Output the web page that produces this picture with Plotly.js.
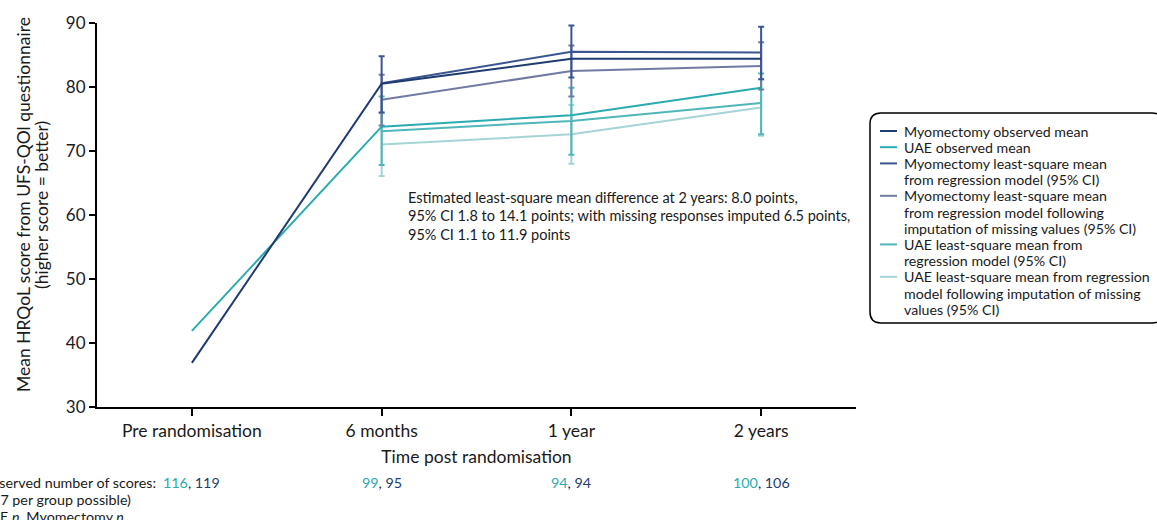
<!DOCTYPE html>
<html>
<head>
<meta charset="utf-8">
<script src="https://cdn.plot.ly/plotly-3.0.1.min.js"></script>
<style>html,body{margin:0;padding:0;background:#fff;}#chart{width:1157px;height:520px;}</style>
</head>
<body>
<div id="chart"></div>
<script>
// ---- data ----
const categories = ['Pre randomisation', '6 months', '1 year', '2 years'];
const fuCategories = ['6 months', '1 year', '2 years'];

const myoObs = [36.9, 80.5, 84.4, 84.4];
const uaeObs = [41.9, 73.8, 75.6, 79.9];

const myoLS = [80.6, 85.5, 85.4];
const myoLSlo = [76.0, 81.5, 81.2];
const myoLShi = [84.8, 89.6, 89.4];

const myoImp = [78.0, 82.5, 83.3];
const myoImplo = [74.0, 78.5, 79.6];
const myoImphi = [81.9, 86.5, 87.0];

const uaeLS = [73.1, 74.7, 77.5];
const uaeLSlo = [67.8, 69.4, 72.6];
const uaeLShi = [78.5, 79.9, 82.1];

const uaeImp = [71.0, 72.6, 76.8];
const uaeImplo = [66.1, 68.0, 72.4];
const uaeImphi = [75.9, 77.2, 81.2];

const nUAE = [116, 99, 94, 100];
const nMyo = [119, 95, 94, 106];

const legendNames = [
  ['Myomectomy observed mean'],
  ['UAE observed mean'],
  ['Myomectomy least-square mean', 'from regression model (95% CI)'],
  ['Myomectomy least-square mean', 'from regression model following', 'imputation of missing values (95% CI)'],
  ['UAE least-square mean from', 'regression model (95% CI)'],
  ['UAE least-square mean from regression', 'model following imputation of missing', 'values (95% CI)']
];

const yTitleLines = ['Mean HRQoL score from UFS-QOl questionnaire', '(higher score = better)'];
const xTitle = 'Time post randomisation';
const noteLines = [
  'Estimated least-square mean difference at 2 years: 8.0 points,',
  '95% CI 1.8 to 14.1 points; with missing responses imputed 6.5 points,',
  '95% CI 1.1 to 11.9 points'
];
const footLines = ['Observed number of scores:', '(127 per group possible)', 'UAE <i>n</i>, Myomectomy <i>n</i>'];

// ---- styling ----
const C = {
  myoObs: '#1f3b70',
  uaeObs: '#2aabb0',
  myoLS: '#3a5590',
  myoImp: '#727aa2',
  uaeLS: '#4fb6b9',
  uaeImp: '#a5d4d7'
};
const FONT = 'Lato, "Open Sans", sans-serif';
const TXT = '#1a1a1a';

function ciTrace(name, y, lo, hi, color) {
  return {
    type: 'scatter', mode: 'lines', name: name, x: fuCategories, y: y,
    line: {color: color, width: 2},
    error_y: {
      type: 'data', symmetric: false,
      array: y.map((v, i) => hi[i] - v),
      arrayminus: y.map((v, i) => v - lo[i]),
      color: color, thickness: 2, width: 3
    },
    showlegend: false, hoverinfo: 'skip'
  };
}

const traces = [
  ciTrace(legendNames[5].join(' '), uaeImp, uaeImplo, uaeImphi, C.uaeImp),
  ciTrace(legendNames[4].join(' '), uaeLS, uaeLSlo, uaeLShi, C.uaeLS),
  ciTrace(legendNames[3].join(' '), myoImp, myoImplo, myoImphi, C.myoImp),
  ciTrace(legendNames[2].join(' '), myoLS, myoLSlo, myoLShi, C.myoLS),
  {type: 'scatter', mode: 'lines', name: legendNames[1][0], x: categories, y: uaeObs,
   line: {color: C.uaeObs, width: 2}, showlegend: false},
  {type: 'scatter', mode: 'lines', name: legendNames[0][0], x: categories, y: myoObs,
   line: {color: C.myoObs, width: 2}, showlegend: false}
];

// plot-area geometry (pixels)
const L = 97, R = 301, T = 23, B = 113, W = 1157 - L - R, H = 520 - T - B;
const px = v => (v - L) / W;           // page x -> paper x
const py = v => (520 - B - v) / H;     // page y -> paper y

const shapes = [];
const annotations = [];

function textLine(text, x, y, size, opts) {
  annotations.push(Object.assign({
    xref: 'paper', yref: 'paper', x: px(x), y: py(y), xanchor: 'left', yanchor: 'middle',
    align: 'left', showarrow: false, borderpad: 0, text: text,
    font: {family: FONT, size: size, color: TXT}
  }, opts || {}));
}

// rounded legend box
(function () {
  const x0 = px(870), x1 = px(1163), y0 = py(323), y1 = py(113);
  const rx = 11 / W, ry = 11 / H;
  shapes.push({
    type: 'path', xref: 'paper', yref: 'paper',
    path: `M ${x0 + rx},${y1} L ${x1 - rx},${y1} Q ${x1},${y1} ${x1},${y1 - ry} L ${x1},${y0 + ry} Q ${x1},${y0} ${x1 - rx},${y0} L ${x0 + rx},${y0} Q ${x0},${y0} ${x0},${y0 + ry} L ${x0},${y1 - ry} Q ${x0},${y1} ${x0 + rx},${y1} Z`,
    line: {color: '#000', width: 1.5}, fillcolor: 'rgba(0,0,0,0)'
  });
})();

// legend swatches + text
const legendColors = [C.myoObs, C.uaeObs, C.myoLS, C.myoImp, C.uaeLS, C.uaeImp];
let lineIdx = 0;
legendNames.forEach((lines, i) => {
  const yFirst = 131 + lineIdx * 16.2;
  shapes.push({type: 'line', xref: 'paper', yref: 'paper',
    x0: px(880), x1: px(897), y0: py(yFirst), y1: py(yFirst),
    line: {color: legendColors[i], width: 2}});
  lines.forEach(t => {
    textLine(t, 903, 131 + lineIdx * 16.2, 14.2);
    lineIdx++;
  });
});

// in-plot note
noteLines.forEach((t, i) => textLine(t, 407, 197 + i * 18.5, 14.5));

// footer
footLines.forEach((t, i) => textLine(t, -21, 482 + i * 17, 14.3));
categories.forEach((c, i) => {
  annotations.push({
    xref: 'x', yref: 'paper', x: c, y: py(482), xanchor: 'center', yanchor: 'middle',
    showarrow: false, borderpad: 0,
    text: `<span style="color:${C.uaeObs}">${nUAE[i]}</span>, <span style="color:${C.myoObs}">${nMyo[i]}</span>`,
    font: {family: FONT, size: 14.3, color: TXT}
  });
});

// y-axis title (two tightly spaced lines)
yTitleLines.forEach((t, i) => {
  annotations.push({
    xref: 'paper', yref: 'paper', x: px(23 + i * 18), y: py(205), xanchor: 'center', yanchor: 'middle',
    textangle: -90, showarrow: false, borderpad: 0, text: t,
    font: {family: FONT, size: 17.5, color: TXT}
  });
});

const layout = {
  width: 1157, height: 520,
  margin: {l: L, r: R, t: T, b: B, pad: 0},
  paper_bgcolor: '#fff', plot_bgcolor: '#fff',
  font: {family: FONT, color: TXT},
  showlegend: false,
  xaxis: {
    type: 'category', categoryorder: 'array', categoryarray: categories,
    range: [-0.5, 3.5], showgrid: false, zeroline: false,
    showline: true, linecolor: '#000', linewidth: 2,
    ticks: 'outside', ticklen: 7, tickwidth: 2, tickcolor: '#000',
    tickfont: {family: FONT, size: 17.5, color: TXT},
    title: {text: xTitle, font: {family: FONT, size: 17.5, color: TXT}, standoff: 11},
    automargin: false, fixedrange: true
  },
  yaxis: {
    range: [30, 90], dtick: 10, tick0: 30, showgrid: false, zeroline: false,
    showline: true, linecolor: '#000', linewidth: 2,
    ticks: 'outside', ticklen: 6, tickwidth: 2, tickcolor: '#000',
    tickfont: {family: FONT, size: 17, color: TXT},
    automargin: false, fixedrange: true
  },
  shapes: shapes,
  annotations: annotations
};

Plotly.newPlot('chart', traces, layout, {displayModeBar: false, staticPlot: true});
</script>
</body>
</html>
